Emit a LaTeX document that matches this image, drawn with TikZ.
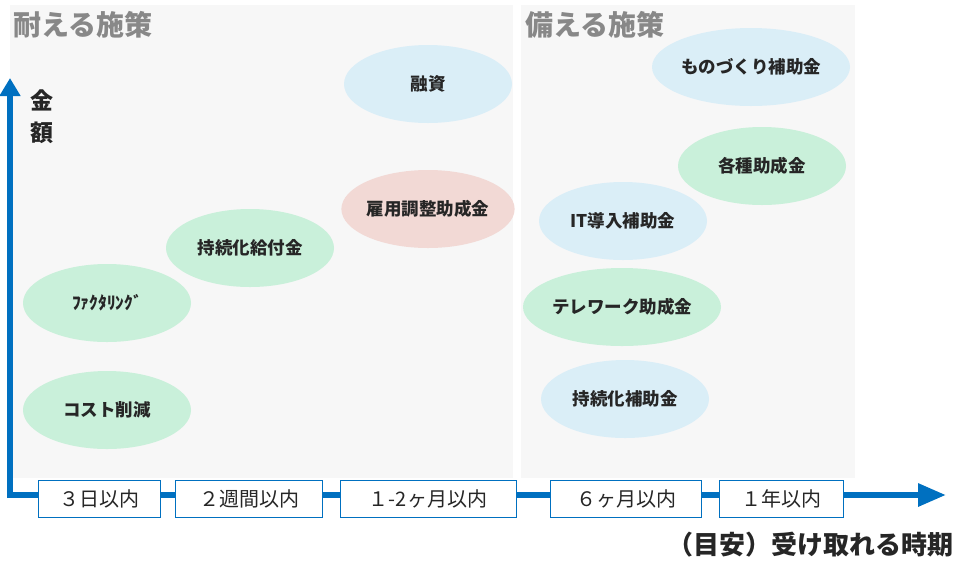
\documentclass[tikz,border=0pt]{standalone}
\usetikzlibrary{arrows.meta,shapes.geometric}
\usepackage{fontspec}
\setmainfont{Noto Sans CJK JP}
\definecolor{ax}{HTML}{0070C0}
\definecolor{pan}{HTML}{F7F7F7}
\definecolor{eb}{HTML}{DAEEF7}
\definecolor{eg}{HTML}{C9F0DA}
\definecolor{ep}{HTML}{F2D9D5}
\definecolor{tg}{HTML}{888888}
\definecolor{tx}{HTML}{262626}
\begin{document}
\begin{tikzpicture}[x=1pt,y=-1pt,
  el/.style={ellipse,minimum width=168pt,minimum height=78pt,inner sep=0pt,font=\fontsize{17.5}{19}\selectfont\bfseries,text=tx},
  tb/.style={draw=ax,line width=1pt,fill=white,minimum height=37pt,inner sep=0pt,font=\fontsize{20}{22}\selectfont,text=tx}]
\useasboundingbox (0,0) rectangle (963,566);
\fill[pan] (10,5) rectangle (513,478);
\fill[pan] (521,5) rectangle (855,478);
\node[anchor=west,text=tg,font=\fontsize{28}{30}\selectfont\bfseries] (t1) at (10,25) {耐える施策};
\node[anchor=west,text=tg,font=\fontsize{28}{30}\selectfont\bfseries] (t2) at (522,25) {備える施策};
\coordinate (yt) at (10,78);
\coordinate (xt) at (946,495);
\draw[ax,line width=6pt,-{Triangle[length=18pt,width=20pt]}] (10,498) -- (yt);
\draw[ax,line width=6pt,-{Triangle[length=28pt,width=22pt]}] (7,495) -- (xt);
\node[font=\fontsize{23}{25}\selectfont\bfseries,text=tx] (k1) at (42,100) {金};
\node[font=\fontsize{23}{25}\selectfont\bfseries,text=tx] (k2) at (42,133) {額};
\node[tb,minimum width=122pt] (b1) at (99,499) {３日以内};
\node[tb,minimum width=147pt] (b2) at (249,499) {２週間以内};
\node[tb,minimum width=176pt] (b3) at (428,499) {１-2ヶ月以内};
\node[tb,minimum width=151pt] (b4) at (626,499) {６ヶ月以内};
\node[tb,minimum width=124pt] (b5) at (781,499) {１年以内};
\node[anchor=east,font=\fontsize{26}{28}\selectfont\bfseries,text=tx] (lab) at (957,545) {（目安）受け取れる時期};
\node[el,fill=eb] (e1) at (428,84) {融資};
\node[el,fill=ep] (e2) at (428,209) {雇用調整助成金};
\node[el,fill=eg] (e3) at (250,248) {持続化給付金};
\node[el,fill=eg] (e4) at (107,303) {ﾌｧｸﾀﾘﾝｸﾞ};
\node[el,fill=eg] (e5) at (107,410) {コスト削減};
\node[el,fill=eb] (e6) at (751,67) {ものづくり補助金};
\node[el,fill=eg] (e7) at (762,166) {各種助成金};
\node[el,fill=eb] (e8) at (623,221) {IT導入補助金};
\node[el,fill=eg] (e9) at (622,307) {テレワーク助成金};
\node[el,fill=eb] (e10) at (625,399) {持続化補助金};
\end{tikzpicture}
\end{document}
